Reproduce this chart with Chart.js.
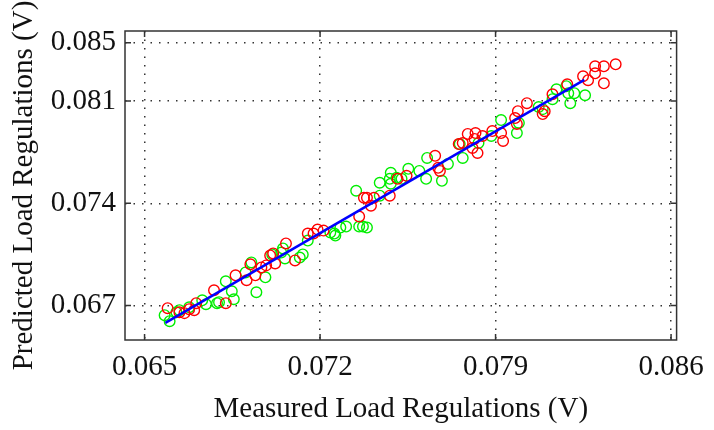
<!DOCTYPE html>
<html>
<head>
<meta charset="utf-8">
<script src="https://cdn.jsdelivr.net/npm/chart.js@4.4.0/dist/chart.umd.min.js"></script>
<style>
  html, body { margin: 0; padding: 0; background: #fff; }
  #wrap { width: 714px; height: 430px; }
</style>
</head>
<body>
<div id="wrap"><canvas id="Chart"></canvas></div>
<script>
// * Tick labels (V)
const xTicks = [0.065, 0.072, 0.079, 0.086]
const yTicks = [0.067, 0.074, 0.081, 0.085]

// * Red series: measured vs predicted (V)
const redMeasured = [0.06592, 0.06639, 0.06659, 0.06678, 0.06698, 0.06706, 0.06777, 0.06824, 0.06863, 0.06907,
    0.06922, 0.06942, 0.06966, 0.06985, 0.07001, 0.07013, 0.07021, 0.07064, 0.07100, 0.07151,
    0.07174, 0.07190, 0.07214, 0.07356, 0.07375, 0.07387, 0.07403, 0.07415, 0.07478, 0.07509,
    0.07545, 0.07659, 0.07671, 0.07678, 0.07753, 0.07769, 0.07789, 0.07808, 0.07820, 0.07828,
    0.07848, 0.07816, 0.07887, 0.07922, 0.07930, 0.07978, 0.07985, 0.07989, 0.08025, 0.08088,
    0.08096, 0.08127, 0.08186, 0.08249, 0.08269, 0.08297, 0.08297, 0.08332, 0.08379, 0.08332]
const redPredicted = [0.06682, 0.06654, 0.06648, 0.06675, 0.06668, 0.06716, 0.06804, 0.06716, 0.06907, 0.06873,
    0.06982, 0.06907, 0.06961, 0.06975, 0.07043, 0.07057, 0.06988, 0.07125, 0.07009, 0.07193,
    0.07193, 0.07220, 0.07213, 0.07309, 0.07438, 0.07438, 0.07384, 0.07438, 0.07452, 0.07568,
    0.07588, 0.07725, 0.07643, 0.07622, 0.07806, 0.07813, 0.07875, 0.07779, 0.07881, 0.07745,
    0.07861, 0.07841, 0.07895, 0.07881, 0.07827, 0.07984, 0.07943, 0.08031, 0.08086, 0.08011,
    0.08031, 0.08147, 0.08215, 0.08270, 0.08243, 0.08290, 0.08338, 0.08338, 0.08352, 0.08222]

// * Green series: measured vs predicted (V)
const greenMeasured = [0.06580, 0.06600, 0.06627, 0.06639, 0.06678, 0.06730, 0.06745, 0.06789, 0.06797, 0.06824,
    0.06848, 0.06856, 0.06903, 0.06926, 0.06946, 0.06982, 0.07009, 0.07045, 0.07052, 0.07060,
    0.07119, 0.07131, 0.07151, 0.07241, 0.07257, 0.07261, 0.07281, 0.07304, 0.07344, 0.07356,
    0.07371, 0.07387, 0.07438, 0.07438, 0.07478, 0.07482, 0.07482, 0.07505, 0.07525, 0.07552,
    0.07596, 0.07623, 0.07627, 0.07686, 0.07710, 0.07757, 0.07769, 0.07832, 0.07883, 0.07922,
    0.07985, 0.07993, 0.08072, 0.08088, 0.08127, 0.08143, 0.08182, 0.08190, 0.08198, 0.08214, 0.08257]
const greenPredicted = [0.06634, 0.06593, 0.06654, 0.06668, 0.06688, 0.06736, 0.06709, 0.06716, 0.06723, 0.06866,
    0.06798, 0.06743, 0.06927, 0.06995, 0.06791, 0.06893, 0.07050, 0.07063, 0.07091, 0.07022,
    0.07029, 0.07050, 0.07145, 0.07200, 0.07193, 0.07179, 0.07234, 0.07241, 0.07486, 0.07241,
    0.07241, 0.07234, 0.07541, 0.07452, 0.07568, 0.07609, 0.07534, 0.07575, 0.07568, 0.07636,
    0.07622, 0.07568, 0.07711, 0.07554, 0.07670, 0.07806, 0.07711, 0.07813, 0.07861, 0.07970,
    0.07881, 0.07950, 0.08059, 0.08045, 0.08113, 0.08181, 0.08202, 0.08154, 0.08086, 0.08154, 0.08140]

// * Fit line end points (V)
const fitMeasured = [0.06583, 0.08254]
const fitPredicted = [0.06581, 0.08245]

const toPoints = (xs, ys) => xs.map((v, i) => ({ x: v, y: ys[i] }))

Chart.defaults.font.family = "'Liberation Serif', 'Times New Roman', serif"
Chart.defaults.color = '#111'

// * Box round the plot with inward tick marks
const framePlugin = {
    id: 'frame',
    afterDraw(chart) {
        const { ctx, chartArea: a, scales: { x, y } } = chart
        ctx.save()
        ctx.strokeStyle = '#333'
        ctx.lineWidth = 1.5
        ctx.beginPath()
        x.ticks.forEach(t => {
            const px = x.getPixelForValue(t.value)
            ctx.moveTo(px, a.bottom); ctx.lineTo(px, a.bottom - 6)
            ctx.moveTo(px, a.top); ctx.lineTo(px, a.top + 6)
        })
        y.ticks.forEach(t => {
            const py = y.getPixelForValue(t.value)
            ctx.moveTo(a.left, py); ctx.lineTo(a.left + 6, py)
            ctx.moveTo(a.right, py); ctx.lineTo(a.right - 6, py)
        })
        ctx.stroke()
        ctx.strokeRect(a.left, a.top, a.right - a.left, a.bottom - a.top)
        ctx.restore()
    }
}

const circle = {
    pointStyle: 'circle',
    pointRadius: 5.3,
    pointHoverRadius: 5.3,
    pointBorderWidth: 1.4,
    backgroundColor: 'rgba(0,0,0,0)',
    showLine: false,
}

const data = {
    datasets: [{
        label: 'Fit',
        data: toPoints(fitMeasured, fitPredicted),
        showLine: true,
        borderColor: '#0000ff',
        borderWidth: 2.5,
        pointRadius: 0,
    }, {
        ...circle,
        label: 'Red',
        data: toPoints(redMeasured, redPredicted),
        borderColor: '#ff0000',
    }, {
        ...circle,
        label: 'Green',
        data: toPoints(greenMeasured, greenPredicted),
        borderColor: '#00ee00',
    }],
}

const gridStyle = { color: '#333', lineWidth: 1.5, drawTicks: false }

const config = {
    type: 'scatter',
    data,
    options: {
        responsive: true,
        maintainAspectRatio: false,
        animation: false,
        layout: { padding: { top: 31, right: 30, bottom: 0, left: 0 } },
        plugins: { legend: { display: false }, tooltip: { enabled: false } },
        scales: {
            x: {
                type: 'linear',
                min: 0.06422,
                max: 0.08622,
                afterBuildTicks: s => { s.ticks = xTicks.map(v => ({ value: v })) },
                afterFit: s => { s.height = 90 },
                grid: gridStyle,
                border: { display: false, dash: [1.5, 7] },
                ticks: { padding: 10, font: { size: 29 }, callback: v => v.toFixed(3) },
                title: { display: true, text: 'Measured Load Regulations (V)', font: { size: 29 }, padding: { top: 0, bottom: 3 } },
            },
            y: {
                type: 'linear',
                min: 0.06464,
                max: 0.08580,
                afterBuildTicks: s => { s.ticks = yTicks.map(v => ({ value: v })) },
                afterFit: s => { s.width = 125 },
                grid: gridStyle,
                border: { display: false, dash: [1.5, 7] },
                ticks: { padding: 9, font: { size: 29 }, callback: v => v.toFixed(3) },
                title: { display: true, text: 'Predicted Load Regulations (V)', font: { size: 29 }, padding: { top: 7, bottom: 0 } },
            },
        },
    },
    plugins: [framePlugin],
}

const scatterChart = new Chart(document.getElementById('Chart'), config)
</script>
</body>
</html>
